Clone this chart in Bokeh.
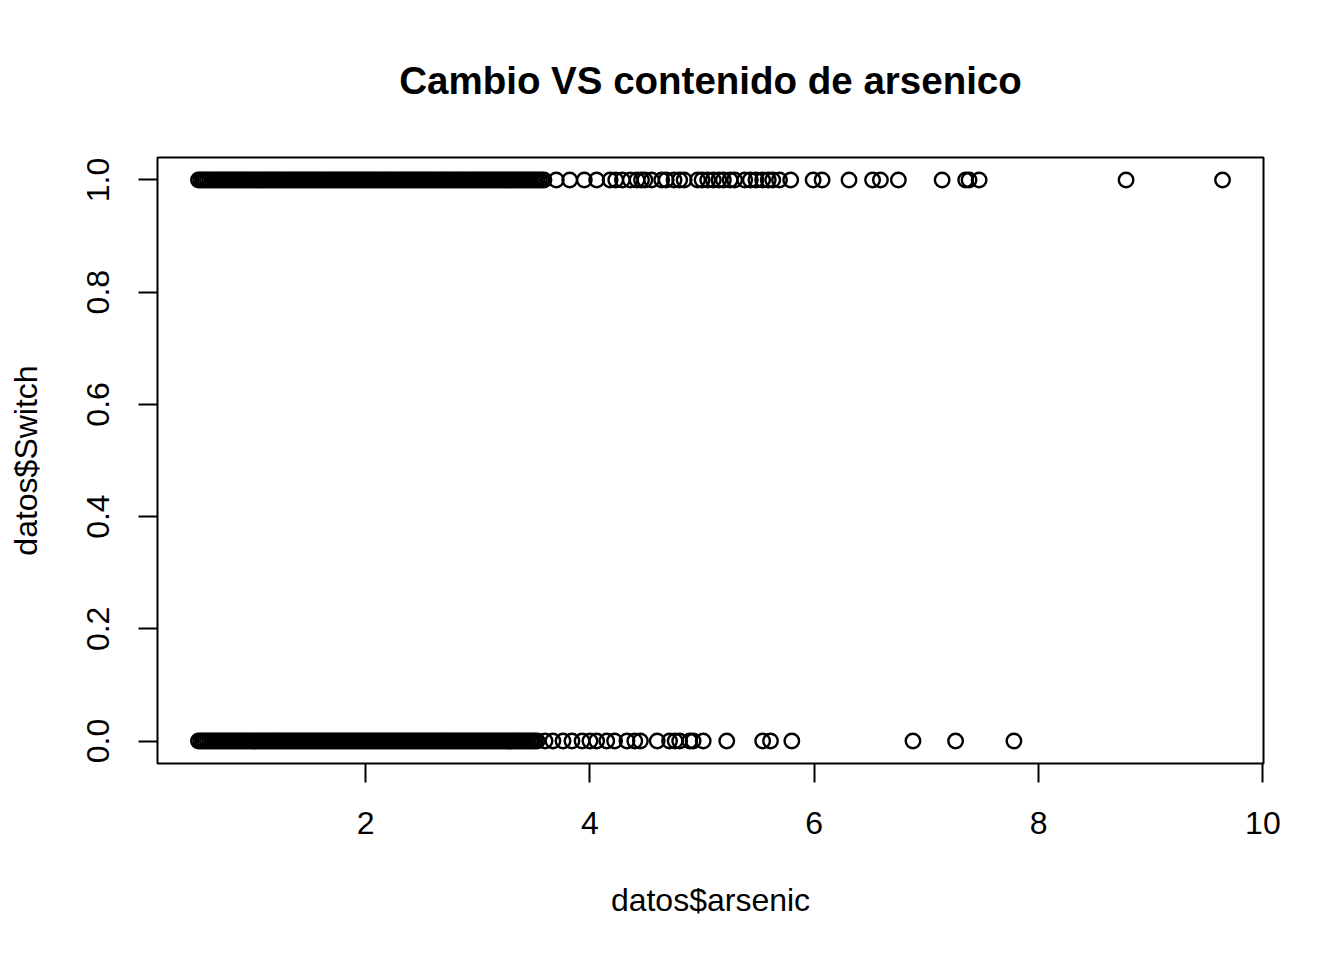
from bokeh.plotting import figure
from bokeh.models import Range1d, FixedTicker, PrintfTickFormatter
from bokeh.embed import file_html
from bokeh.resources import INLINE

# arsenic values of wells where the household switched (Switch = 1)
switch1_arsenic = [
    0.51, 0.53, 0.55, 0.57, 0.59, 0.61, 0.63, 0.65, 0.67, 0.69,
    0.71, 0.73, 0.75, 0.77, 0.79, 0.81, 0.83, 0.85, 0.87, 0.89,
    0.91, 0.93, 0.95, 0.97, 0.99, 1.01, 1.03, 1.05, 1.07, 1.09,
    1.11, 1.13, 1.15, 1.17, 1.19, 1.21, 1.23, 1.25, 1.27, 1.29,
    1.31, 1.33, 1.35, 1.37, 1.39, 1.41, 1.43, 1.45, 1.47, 1.49,
    1.51, 1.53, 1.55, 1.57, 1.59, 1.61, 1.63, 1.65, 1.67, 1.69,
    1.71, 1.73, 1.75, 1.77, 1.79, 1.81, 1.83, 1.85, 1.87, 1.89,
    1.91, 1.93, 1.95, 1.97, 1.99, 2.01, 2.03, 2.05, 2.07, 2.09,
    2.11, 2.13, 2.15, 2.17, 2.19, 2.21, 2.23, 2.25, 2.27, 2.29,
    2.31, 2.33, 2.35, 2.37, 2.39, 2.41, 2.43, 2.45, 2.47, 2.49,
    2.51, 2.53, 2.55, 2.57, 2.59, 2.61, 2.63, 2.65, 2.67, 2.69,
    2.71, 2.73, 2.75, 2.77, 2.79, 2.81, 2.83, 2.85, 2.87, 2.89,
    2.91, 2.93, 2.95, 2.97, 2.99, 3.01, 3.03, 3.05, 3.07, 3.09,
    3.11, 3.13, 3.15, 3.17, 3.19, 3.21, 3.23, 3.25, 3.27, 3.29,
    3.31, 3.33, 3.35, 3.37, 3.39, 3.41, 3.43, 3.45, 3.47, 3.49,
    3.51, 3.53, 3.55, 3.57, 3.59,
    3.70, 3.82, 3.95, 4.06, 4.18, 4.23, 4.29, 4.36, 4.42, 4.46,
    4.49, 4.55, 4.64, 4.68, 4.75, 4.80, 4.84, 4.96, 5.00, 5.05,
    5.10, 5.15, 5.19, 5.25, 5.29, 5.38, 5.43, 5.48, 5.54, 5.59,
    5.63, 5.69, 5.79, 5.99, 6.07, 6.31, 6.52, 6.59, 6.75, 7.14,
    7.35, 7.38, 7.47, 8.78, 9.64,
]

# arsenic values of wells where the household did not switch (Switch = 0)
switch0_arsenic = [
    0.51, 0.53, 0.55, 0.57, 0.59, 0.61, 0.63, 0.65, 0.67, 0.69,
    0.71, 0.73, 0.75, 0.77, 0.79, 0.81, 0.83, 0.85, 0.87, 0.89,
    0.91, 0.93, 0.95, 0.97, 0.99, 1.01, 1.03, 1.05, 1.07, 1.09,
    1.11, 1.13, 1.15, 1.17, 1.19, 1.21, 1.23, 1.25, 1.27, 1.29,
    1.31, 1.33, 1.35, 1.37, 1.39, 1.41, 1.43, 1.45, 1.47, 1.49,
    1.51, 1.53, 1.55, 1.57, 1.59, 1.61, 1.63, 1.65, 1.67, 1.69,
    1.71, 1.73, 1.75, 1.77, 1.79, 1.81, 1.83, 1.85, 1.87, 1.89,
    1.91, 1.93, 1.95, 1.97, 1.99, 2.01, 2.03, 2.05, 2.07, 2.09,
    2.11, 2.13, 2.15, 2.17, 2.19, 2.21, 2.23, 2.25, 2.27, 2.29,
    2.31, 2.33, 2.35, 2.37, 2.39, 2.41, 2.43, 2.45, 2.47, 2.49,
    2.51, 2.53, 2.55, 2.57, 2.59, 2.61, 2.63, 2.65, 2.67, 2.69,
    2.71, 2.73, 2.75, 2.77, 2.79, 2.81, 2.83, 2.85, 2.87, 2.89,
    2.91, 2.93, 2.95, 2.97, 2.99, 3.01, 3.03, 3.05, 3.07, 3.09,
    3.11, 3.13, 3.15, 3.17, 3.19, 3.21, 3.23, 3.25, 3.27, 3.29,
    3.31, 3.33, 3.35, 3.37, 3.39, 3.41, 3.43, 3.45, 3.47, 3.49,
    3.51, 3.53,
    3.60, 3.67, 3.76, 3.84, 3.93, 4.00, 4.06, 4.15, 4.22, 4.33,
    4.40, 4.45, 4.60, 4.71, 4.76, 4.80, 4.89, 4.92, 5.01, 5.22,
    5.54, 5.61, 5.80, 6.88, 7.26, 7.78,
]

switch1_value = [1.0] * len(switch1_arsenic)
switch0_value = [0.0] * len(switch0_arsenic)

x_ticks = [2, 4, 6, 8, 10]
y_ticks = [0.0, 0.2, 0.4, 0.6, 0.8, 1.0]

title_text = "Cambio VS contenido de arsenico"
x_label = "datos$arsenic"
y_label = "datos$Switch"

FONT = "Liberation Sans"

all_x = switch1_arsenic + switch0_arsenic
xmin, xmax = min(all_x), max(all_x)
xpad = (xmax - xmin) * 0.04

p = figure(
    frame_width=1106, frame_height=606,
    min_border_left=157, min_border_right=73,
    min_border_top=157, min_border_bottom=189,
    x_range=Range1d(xmin - xpad, xmax + xpad),
    y_range=Range1d(-0.04, 1.04),
    output_backend="svg", toolbar_location=None,
    title=title_text,
)
p.background_fill_color = "white"
p.border_fill_color = "white"
p.outline_line_color = "black"
p.outline_line_width = 2
p.grid.visible = False

p.title.align = "center"
p.title.text_font = FONT
p.title.text_font_size = "38.5px"
p.title.text_font_style = "bold"
p.title.text_color = "black"
p.title.standoff = 111

for ax in (p.xaxis[0], p.yaxis[0]):
    ax.axis_line_color = None
    ax.major_tick_line_color = "black"
    ax.major_tick_line_width = 2
    ax.major_tick_out = 19
    ax.major_tick_in = 0
    ax.minor_tick_line_color = None
    ax.major_label_text_font = FONT
    ax.major_label_text_font_size = "32px"
    ax.major_label_text_color = "black"
    ax.major_label_standoff = 29
    ax.axis_label_text_font = FONT
    ax.axis_label_text_font_size = "32px"
    ax.axis_label_text_font_style = "normal"
    ax.axis_label_text_color = "black"

p.xaxis[0].axis_label_standoff = 45
p.yaxis[0].axis_label_standoff = 41

p.xaxis[0].ticker = FixedTicker(ticks=x_ticks)
p.yaxis[0].ticker = FixedTicker(ticks=y_ticks)
p.yaxis[0].formatter = PrintfTickFormatter(format="%.1f")
p.yaxis[0].major_label_orientation = "vertical"
p.xaxis[0].axis_label = x_label
p.yaxis[0].axis_label = y_label

p.scatter(switch1_arsenic, switch1_value, marker="circle", size=14.5,
          fill_color=None, line_color="black", line_width=2.4)
p.scatter(switch0_arsenic, switch0_value, marker="circle", size=14.5,
          fill_color=None, line_color="black", line_width=2.4)

open("out.html", "w").write(file_html(p, INLINE))
